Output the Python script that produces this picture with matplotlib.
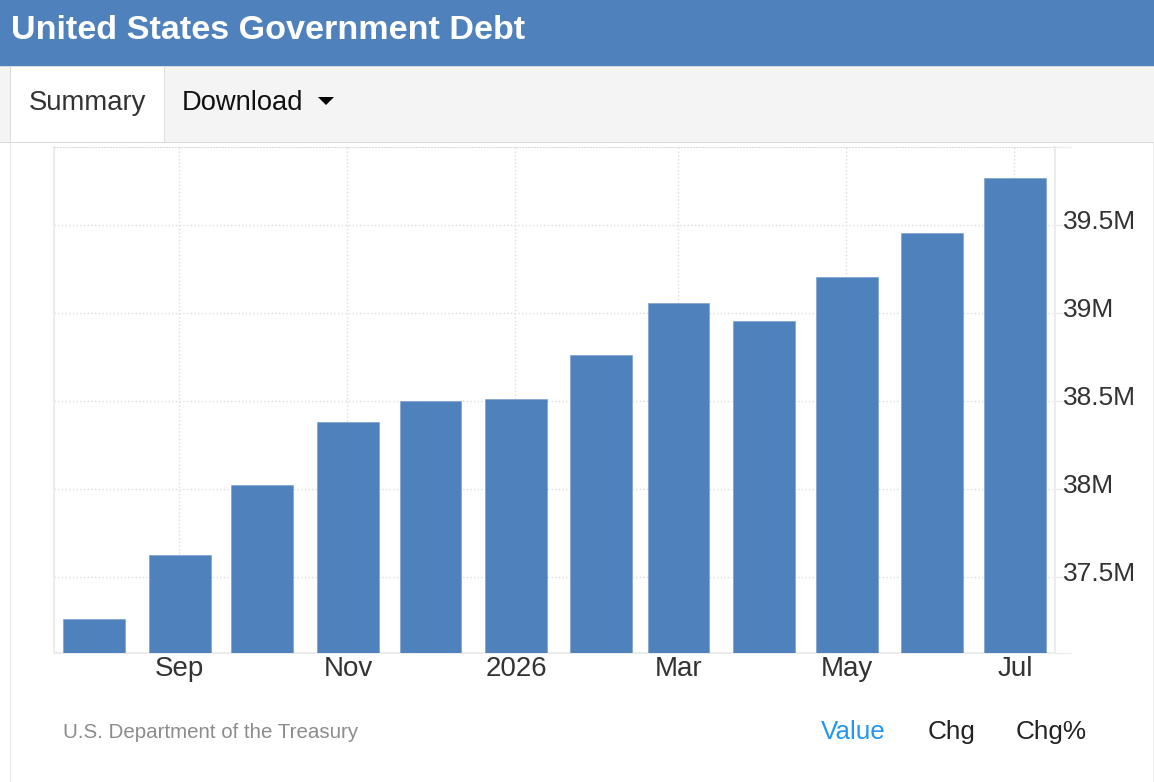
# us_debt_bars.py
import matplotlib
matplotlib.use("Agg")
import matplotlib.pyplot as plt
from matplotlib.patches import Rectangle, Polygon
from matplotlib.transforms import ScaledTranslation
from datetime import datetime, timedelta

plt.rcParams["font.family"] = ["Liberation Sans", "DejaVu Sans"]

W, H = 1154, 782
BLUE = "#4f81bd"

months = ["2025-08", "2025-09", "2025-10", "2025-11", "2025-12", "2026-01",
          "2026-02", "2026-03", "2026-04", "2026-05", "2026-06", "2026-07"]
debt = [37.261, 37.622, 38.023, 38.381, 38.500, 38.509,
        38.761, 39.054, 38.957, 39.202, 39.454, 39.767]
tick_months = ["2025-09", "2025-11", "2026-01", "2026-03", "2026-05", "2026-07"]
tick_labels = ["Sep", "Nov", "2026", "Mar", "May", "Jul"]
y_ticks = [37.5, 38, 38.5, 39, 39.5]
y_labels = ["37.5M", "38M", "38.5M", "39M", "39.5M"]

dates = [datetime.strptime(m, "%Y-%m") for m in months]
tick_dates = [datetime.strptime(m, "%Y-%m") for m in tick_months]

fig = plt.figure(figsize=(W / 100, H / 100), dpi=100, facecolor="white")


# helpers working in image pixels (y from the top)
def box(x0, y0, x1, y1, color):
    fig.patches.append(Rectangle((x0 / W, 1 - y1 / H), (x1 - x0) / W, (y1 - y0) / H,
                                 transform=fig.transFigure, fc=color, ec="none"))


def txt(x, y, s, size, color, **kw):
    fig.text(x / W, 1 - y / H, s, fontsize=size, color=color, va="center", **kw)


# page furniture
box(0, 0, W, 66, BLUE)
box(0, 66, W, 143, "#d9d9d9")
box(0, 67, W, 142, "#f4f4f4")
box(10, 67, 165, 142, "#dddddd")
box(11, 67, 164, 142, "white")
box(10, 143, 11, H, "#e6e6e6")
box(W - 1, 143, W, H, "#eeeeee")

txt(11, 30.5, "United States Government Debt", 24.6, "white", fontweight="bold")
txt(29, 103.5, "Summary", 19.8, "#333333")
txt(182, 103.5, "Download", 19.7, "#111111")
fig.patches.append(Polygon([(318 / W, 1 - 97 / H), (334 / W, 1 - 97 / H), (326 / W, 1 - 105 / H)],
                           transform=fig.transFigure, fc="black", ec="none"))

txt(63, 732, "U.S. Department of the Treasury", 14.75, "#8c8c8c")
txt(821, 732, "Value", 18.7, "#2196f3")
txt(928, 732, "Chg", 18.8, "#222222")
txt(1016, 732, "Chg%", 18.8, "#222222")

# chart
ax = fig.add_axes([54 / W, 1 - 653 / H, (1055 - 54) / W, (653 - 147) / H])
# bars sit a touch right of the gridlines in the original
bar_dates = [d + timedelta(days=0.3) for d in dates]
ax.bar(bar_dates, debt, width=22.4, color=BLUE, edgecolor="#7da2d0", linewidth=0.5,
       zorder=3)

ax.set_xlim(datetime(2025, 9, 1) - timedelta(days=45.3), datetime(2026, 7, 1) + timedelta(days=14.9))
ax.set_ylim(37.068, 39.943)

ax.set_xticks(tick_dates)
ax.set_xticklabels(tick_labels, fontsize=20, color="#333333")
ax.tick_params(axis="x", length=0, pad=2)

# x labels sit a pixel right of their gridlines
nudge = ScaledTranslation(1 / 100, 0, fig.dpi_scale_trans)
for lab in ax.get_xticklabels():
    lab.set_transform(lab.get_transform() + nudge)

ax.yaxis.tick_right()
ax.set_yticks(y_ticks)
ax.set_yticklabels(y_labels, fontsize=19, color="#333333")
ax.set_yticks([37.068, 39.943], minor=True)
ax.tick_params(axis="y", which="both", length=11.5, width=1, color="#ececec", pad=-5.5)

# y labels are lifted above their ticks
lift = ScaledTranslation(0, 5 / 100, fig.dpi_scale_trans)
for lab in ax.get_yticklabels():
    lab.set_transform(lab.get_transform() + lift)

ax.grid(True, color="#dcdcdc", linestyle=":", linewidth=1, zorder=0)
ax.set_axisbelow(True)

for side in ["left", "right", "bottom"]:
    ax.spines[side].set_color("#ececec")
    ax.spines[side].set_linewidth(1.5)
ax.spines["top"].set_color("#dcdcdc")
ax.spines["top"].set_linestyle(":")

fig.savefig("out.png", dpi=100)
